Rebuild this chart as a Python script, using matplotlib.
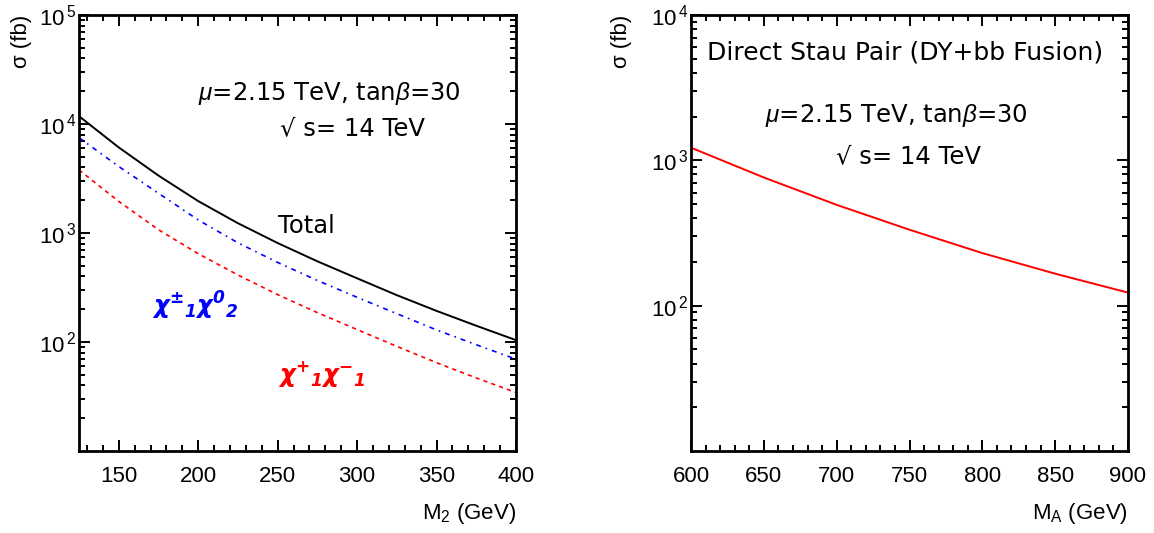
import math
import matplotlib
matplotlib.use("Agg")
import matplotlib.pyplot as plt
from matplotlib.ticker import FixedLocator, MultipleLocator, LogLocator, NullFormatter, FuncFormatter

plt.rcParams['font.family'] = ['Liberation Sans', 'DejaVu Sans']
plt.rcParams['mathtext.fontset'] = 'custom'
plt.rcParams['mathtext.rm'] = 'Liberation Sans'
plt.rcParams['mathtext.it'] = 'Liberation Sans:italic'
plt.rcParams['mathtext.bf'] = 'Liberation Sans:bold'
plt.rcParams['mathtext.bfit'] = 'DejaVu Sans:italic:bold'

# Chargino / neutralino production vs M2
m2 = [125, 150, 175, 200, 225, 250, 275, 300, 325, 350, 375, 400]
sigma_total = [11800, 6100, 3365, 1963, 1230, 809, 550, 384, 269, 193, 141, 104]
sigma_c1n2 = [7500, 4074, 2317, 1318, 813, 537, 367, 257, 182, 129, 94.4, 69.5]
sigma_c1c1 = [3790, 1950, 1072, 646, 412, 272, 186, 130, 91.2, 64.6, 46.8, 34.4]

# Direct stau pair production vs MA
ma = [600, 650, 700, 750, 800, 850, 900]
sigma_stau = [1222, 762, 494, 333, 230, 166, 123]

W, H = 1154, 533
fig = plt.figure(figsize=(W / 100, H / 100), dpi=100)

def px_axes(left, top, right, bottom):
    return fig.add_axes([left / W, (H - bottom) / H, (right - left) / W, (bottom - top) / H])

ax1 = px_axes(79, 15, 516, 451)
ax2 = px_axes(691, 15, 1128, 451)

def decade(v, pos):
    return r'$\mathregular{10^{\,%d}}$' % round(math.log10(v))

def style(ax, xmaj, xmin, ylabels):
    ax.set_yscale('log')
    ax.yaxis.set_major_locator(FixedLocator(ylabels))
    ax.yaxis.set_major_formatter(FuncFormatter(decade))
    ax.yaxis.set_minor_locator(LogLocator(base=10, subs=range(2, 10), numticks=20))
    ax.yaxis.set_minor_formatter(NullFormatter())
    ax.xaxis.set_major_locator(MultipleLocator(xmaj))
    ax.xaxis.set_minor_locator(MultipleLocator(xmin))
    for s in ax.spines.values():
        s.set_linewidth(2.0)
    ax.tick_params(which='both', direction='in', top=True, right=True, width=1.4)
    ax.tick_params(which='major', length=8)
    ax.tick_params(which='minor', length=4.5)
    ax.tick_params(axis='x', which='major', labelsize=16, pad=11)
    ax.tick_params(axis='y', which='major', labelsize=16, pad=2)

ax1.plot(m2, sigma_total, color='black', lw=1.4)
ax1.plot(m2, sigma_c1n2, color='blue', lw=1.2, dashes=(3, 3, 1, 3))
ax1.plot(m2, sigma_c1c1, color='red', lw=1.2, dashes=(2.5, 2.5))
ax1.set_xlim(125, 400)
ax1.set_ylim(10, 1e5)
style(ax1, 50, 10, [1e2, 1e3, 1e4, 1e5])

ax2.plot(ma, sigma_stau, color='red', lw=1.4)
ax2.set_xlim(600, 900)
ax2.set_ylim(10, 1e4)
style(ax2, 50, 10, [1e2, 1e3, 1e4])

txt = dict(family=['DejaVu Sans'], fontsize=17.5)
ax1.text(0.272, 0.805, r'$\mu$=2.15 TeV, tan$\beta$=30', transform=ax1.transAxes, **txt)
ax1.text(0.46, 0.725, '\u221a s= 14 TeV', transform=ax1.transAxes, **txt)
ax1.text(0.455, 0.499, 'Total', transform=ax1.transAxes, **txt)
ax1.text(0.167, 0.312, r'$\mathbfit{\chi^{\pm}{}_{1}\chi^{0}{}_{2}}$', transform=ax1.transAxes,
         color='blue', fontsize=17.5)
ax1.text(0.455, 0.159, r'$\mathbfit{\chi^{+}{}_{1}\chi^{-}{}_{1}}$', transform=ax1.transAxes,
         color='red', fontsize=17.5)

ax2.text(0.037, 0.897, 'Direct Stau Pair (DY+bb Fusion)', family=['DejaVu Sans'],
         fontsize=18, transform=ax2.transAxes)
ax2.text(0.169, 0.755, r'$\mu$=2.15 TeV, tan$\beta$=30', transform=ax2.transAxes, **txt)
ax2.text(0.332, 0.661, '\u221a s= 14 TeV', transform=ax2.transAxes, **txt)

fig.text(22 / W, 1 - 15 / H, '\u03c3 (fb)', rotation=90, ha='center', va='top', fontsize=16)
fig.text(622 / W, 1 - 15 / H, '\u03c3 (fb)', rotation=90, ha='center', va='top', fontsize=16)
fig.text(516 / W, 1 - 513 / H, r'$\mathregular{M_{2}}$ (GeV)', ha='right', va='center', fontsize=16)
fig.text(1128 / W, 1 - 513 / H, r'$\mathregular{M_{A}}$ (GeV)', ha='right', va='center', fontsize=16)

fig.savefig('out.png', dpi=100)
